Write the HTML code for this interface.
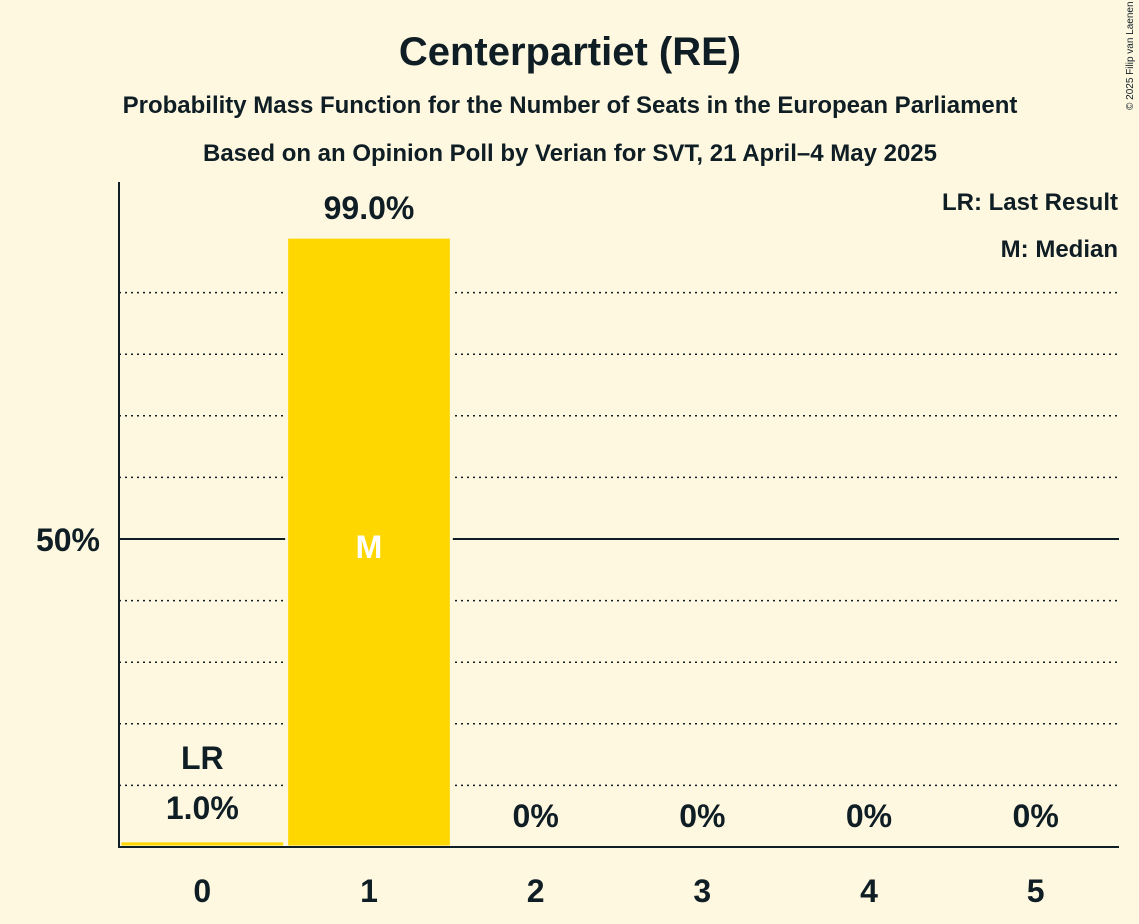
<!DOCTYPE html>
<html><head><meta charset="utf-8"><style>
html,body{margin:0;padding:0;background:#fff8e1;}
svg{display:block;font-family:"Liberation Sans",sans-serif;}
</style></head><body>
<svg width="1139" height="924" viewBox="0 0 1139 924">
<rect width="1139" height="924" fill="#fff8e1"/>
<text x="570" y="65" text-anchor="middle" font-size="40" font-weight="bold" fill="#0f1e24">Centerpartiet (RE)</text>
<text x="570" y="113" text-anchor="middle" font-size="24" font-weight="bold" fill="#0f1e24">Probability Mass Function for the Number of Seats in the European Parliament</text>
<text x="570" y="161" text-anchor="middle" font-size="24" font-weight="bold" fill="#0f1e24">Based on an Opinion Poll by Verian for SVT, 21 April–4 May 2025</text>
<text x="1133" y="110" font-size="10" fill="#0f1e24" transform="rotate(-90 1133 110)" text-anchor="start">© 2025 Filip van Laenen</text>
<text x="1118" y="210" text-anchor="end" font-size="24" font-weight="bold" fill="#0f1e24">LR: Last Result</text>
<text x="1118" y="257" text-anchor="end" font-size="24" font-weight="bold" fill="#0f1e24">M: Median</text>
<g id="grid"></g>
<g id="bars"></g>
<line x1="119" y1="182" x2="119" y2="848" stroke="#0f1e24" stroke-width="2"/>
<line x1="118" y1="847" x2="1119" y2="847" stroke="#0f1e24" stroke-width="2"/>
<g id="labels"></g>
</svg>
<script>
const seats = [0,1,2,3,4,5];
const probs = [1.0,99.0,0,0,0,0];
const valueLabels = ["1.0%","99.0%","0%","0%","0%","0%"];
const lastResult = 0;
const median = 1;
const NS="http://www.w3.org/2000/svg";
const x0=119,x1=1119,yBase=847,yTop=231;
const step=(x1-x0)/seats.length;
const xc=i=>x0+step*(i+0.5);
const y=v=>yBase-(yBase-yTop)*v/100;
function mk(tag,attrs,parent){const e=document.createElementNS(NS,tag);for(const k in attrs)e.setAttribute(k,attrs[k]);document.getElementById(parent).appendChild(e);return e;}
for(let p=10;p<100;p+=10){
  const l=mk('line',{x1:x0,x2:x1,y1:y(p),y2:y(p),stroke:'#0f1e24','stroke-width':p===50?2:1.5,'stroke-dasharray':p===50?'':'2,4'},'grid');
  
  
}
const t50=mk('text',{x:100,y:y(50)+12,'text-anchor':'end','font-size':32,'font-weight':'bold',fill:'#0f1e24'},'labels');
t50.textContent='50%';


seats.forEach((s,i)=>{
  if(probs[i]>0){
    const b=mk('rect',{x:xc(i)-step/2+1,y:y(probs[i]),width:step-2,height:yBase-y(probs[i]),fill:'#ffd700',stroke:'#fff8e1','stroke-width':3},'bars');
    
    
  }
  const isMed=(i===median);
  let vy=isMed?y(probs[i])-18:yBase-20;
  if(!isMed && probs[i]>0) vy=Math.min(yBase-20,y(probs[i])-22);
  const v=mk('text',{x:xc(i),y:vy,'text-anchor':'middle','font-size':32,'font-weight':'bold',fill:'#0f1e24'},'labels');
  v.textContent=valueLabels[i];
  
  
  const t=mk('text',{x:xc(i),y:902,'text-anchor':'middle','font-size':32,'font-weight':'bold',fill:'#0f1e24'},'labels');
  t.textContent=String(s);
  
  
  if(i===lastResult){
    const lr=mk('text',{x:xc(i),y:vy-50,'text-anchor':'middle','font-size':32,'font-weight':'bold',fill:'#0f1e24'},'labels');
    lr.textContent='LR';
    
    
  }
  if(isMed){
    const m=mk('text',{x:xc(i),y:y(50)+19,'text-anchor':'middle','font-size':32,'font-weight':'bold',fill:'#ffffff'},'labels');
    m.textContent='M';
    
    
  }
});
</script>
</body></html>
